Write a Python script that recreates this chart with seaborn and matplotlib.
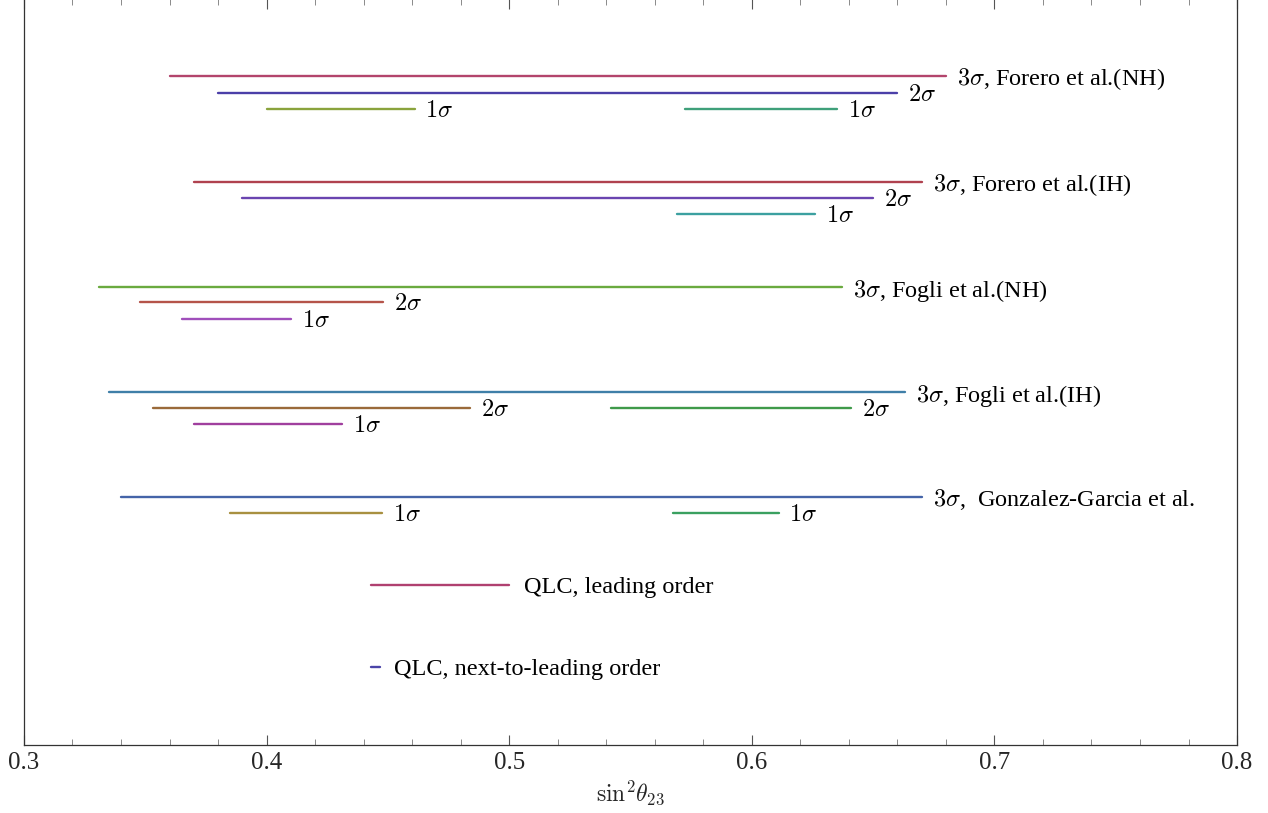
import numpy as np
import pandas as pd
import matplotlib
matplotlib.use('Agg')
import matplotlib.pyplot as plt
from matplotlib.ticker import MultipleLocator
import seaborn as sns

# ============================================
# DATA: allowed ranges of sin^2(theta_23)
# ============================================
seg_start = [0.360, 0.380, 0.400, 0.5725,
             0.370, 0.390, 0.569,
             0.331, 0.348, 0.365,
             0.335, 0.353, 0.542, 0.370,
             0.340, 0.385, 0.5675,
             0.443, 0.443]
seg_end = [0.680, 0.660, 0.461, 0.635,
           0.670, 0.650, 0.626,
           0.637, 0.448, 0.410,
           0.663, 0.484, 0.641, 0.431,
           0.670, 0.4476, 0.611,
           0.500, 0.4467]
# vertical row of each segment (top = 0)
seg_row = [77, 94, 110, 110,
           183, 199, 215,
           288, 303, 320,
           393, 409, 409, 425,
           497, 513, 513,
           585, 667]
seg_label = [r'$3\sigma$, Forero et al.(NH)', r'$2\sigma$', r'$1\sigma$', r'$1\sigma$',
             r'$3\sigma$, Forero et al.(IH)', r'$2\sigma$', r'$1\sigma$',
             r'$3\sigma$, Fogli et al.(NH)', r'$2\sigma$', r'$1\sigma$',
             r'$3\sigma$, Fogli et al.(IH)', r'$2\sigma$', r'$2\sigma$', r'$1\sigma$',
             r'$3\sigma$,  Gonzalez-Garcia et al.', r'$1\sigma$', r'$1\sigma$',
             'QLC, leading order', 'QLC, next-to-leading order']
seg_color = ['#b3446c', '#4b3fa8', '#8aa33c', '#3fa07a',
             '#b0424f', '#6a44b0', '#3ca0a0',
             '#6aaa3f', '#b5544a', '#a04fbb',
             '#3f7fa8', '#9a6a3a', '#3f9a4a', '#a03f9e',
             '#4464a8', '#a89040', '#3aa060',
             '#b04070', '#4a44a8']

x_ticks = [0.3, 0.4, 0.5, 0.6, 0.7, 0.8]

# long table: two points per segment
rows = []
for i in range(len(seg_start)):
    rows.append({'seg': i, 'x': seg_start[i], 'y': seg_row[i]})
    rows.append({'seg': i, 'x': seg_end[i], 'y': seg_row[i]})
df = pd.DataFrame(rows)

sns.set_style('white')
plt.rcParams['font.family'] = ['Liberation Serif', 'DejaVu Serif']
plt.rcParams['mathtext.fontset'] = 'cm'

fig = plt.figure(figsize=(12.68, 8.13), dpi=100)
ax = fig.add_axes([0.0189, 0.0836, 0.9567, 0.918])

sns.lineplot(data=df, x='x', y='y', hue='seg', palette=seg_color,
             estimator=None, sort=False, legend=False, linewidth=1.7, ax=ax)

# labels at the right end of each segment
for i in range(len(seg_start)):
    off = 0.006 if seg_label[i].startswith('QLC') else 0.0045
    ax.text(seg_end[i] + off, seg_row[i], seg_label[i], fontsize=17.5,
            va='center_baseline', ha='left', color='black')

ax.set_xlim(0.3, 0.8)
ax.set_ylim(745, 0)
ax.set_xticks(x_ticks)
ax.set_xticklabels([f'{t:.1f}' for t in x_ticks], fontsize=18)
ax.xaxis.set_minor_locator(MultipleLocator(0.02))
ax.set_yticks([])
ax.tick_params(axis='x', which='major', direction='in', length=7, width=0.8,
               top=True, bottom=True, color='#555555', pad=5)
ax.tick_params(axis='x', which='minor', direction='in', length=4, width=0.6,
               top=True, bottom=True, color='#777777')
for s in ax.spines.values():
    s.set_color('#333333')
    s.set_linewidth(0.9)

ax.set_xlabel(r'$\mathrm{sin}^2\theta_{23}$', fontsize=17, labelpad=3)
ax.set_ylabel('')

plt.savefig('out.png', dpi=100)
plt.close()
